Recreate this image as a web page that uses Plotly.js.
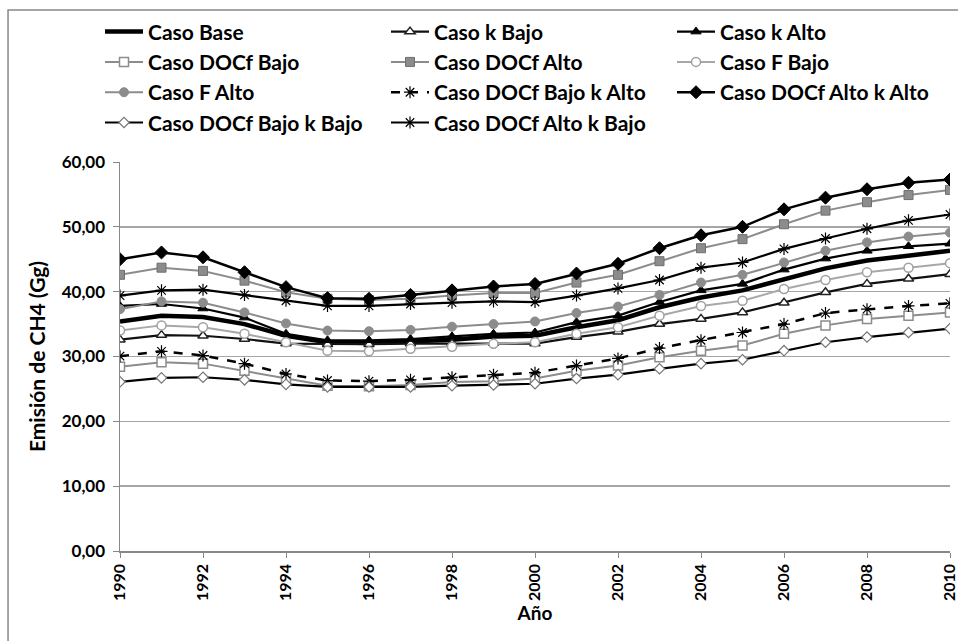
<!DOCTYPE html>
<html>
<head>
<meta charset="utf-8">
<script src="https://cdn.plot.ly/plotly-3.0.1.min.js"></script>
<style>html,body{margin:0;padding:0;background:#fff;}#chart{width:958px;height:641px;}</style>
</head>
<body>
<div id="chart"></div>
<script>
const years = [1990,1991,1992,1993,1994,1995,1996,1997,1998,1999,2000,2001,2002,2003,2004,2005,2006,2007,2008,2009,2010];
const xTicks = [1990,1992,1994,1996,1998,2000,2002,2004,2006,2008,2010];

const casoBase          = [35.4,36.3,36.1,35.0,33.2,32.2,32.1,32.3,32.6,33.1,33.2,34.5,35.6,37.6,39.1,40.2,41.9,43.6,44.8,45.6,46.3];
const casoKBajo         = [32.6,33.3,33.2,32.7,32.0,31.9,31.9,32.0,32.0,32.1,32.0,33.0,33.8,35.0,35.8,36.8,38.3,39.9,41.2,42.0,42.7];
const casoKAlto         = [37.8,38.1,37.4,36.0,33.5,32.5,32.5,32.7,33.1,33.5,33.7,35.3,36.3,38.4,40.2,41.2,43.4,45.1,46.3,47.0,47.4];
const casoDOCfBajo      = [28.4,29.1,28.9,27.8,26.6,25.5,25.4,25.6,26.05,26.2,26.6,27.8,28.6,29.9,30.9,31.7,33.5,34.8,35.8,36.3,36.8];
const casoDOCfAlto      = [42.6,43.7,43.2,41.7,39.9,38.9,38.7,38.9,39.4,39.8,39.8,41.4,42.6,44.7,46.7,48.1,50.4,52.5,53.8,54.9,55.7];
const casoFBajo         = [34.0,34.8,34.5,33.5,32.2,30.9,30.8,31.2,31.5,31.95,32.2,33.5,34.5,36.3,37.8,38.6,40.4,41.8,43.0,43.7,44.4];
const casoFAlto         = [37.3,38.5,38.3,36.8,35.1,34.0,33.9,34.1,34.6,35.0,35.4,36.7,37.7,39.5,41.4,42.6,44.5,46.3,47.6,48.5,49.1];
const casoDOCfBajoKAlto = [30.05,30.8,30.15,28.9,27.3,26.3,26.2,26.4,26.8,27.2,27.5,28.6,29.7,31.3,32.5,33.7,35.0,36.7,37.3,37.8,38.2];
const casoDOCfAltoKAlto = [45.0,46.05,45.3,43.0,40.7,39.0,38.9,39.5,40.2,40.8,41.2,42.8,44.3,46.7,48.7,50.0,52.7,54.5,55.8,56.8,57.3];
const casoDOCfBajoKBajo = [26.1,26.7,26.8,26.4,25.7,25.3,25.3,25.3,25.5,25.6,25.8,26.6,27.2,28.1,28.9,29.5,30.9,32.2,33.0,33.7,34.3];
const casoDOCfAltoKBajo = [39.4,40.2,40.3,39.5,38.6,37.8,37.8,38.1,38.3,38.5,38.4,39.4,40.5,41.8,43.7,44.5,46.6,48.2,49.7,51.0,51.9];

const names = ['Caso Base','Caso k Bajo','Caso k Alto','Caso DOCf Bajo','Caso DOCf Alto','Caso F Bajo',
  'Caso F Alto','Caso DOCf Bajo k Alto','Caso DOCf Alto k Alto','Caso DOCf Bajo k Bajo','Caso DOCf Alto k Bajo'];
const series = [casoBase,casoKBajo,casoKAlto,casoDOCfBajo,casoDOCfAlto,casoFBajo,casoFAlto,
  casoDOCfBajoKAlto,casoDOCfAltoKAlto,casoDOCfBajoKBajo,casoDOCfAltoKBajo];

const styles = [
  {line:{color:'#000',width:4.5}, mode:'lines'},
  {line:{color:'#111',width:2.2}, marker:{symbol:'triangle-up',size:9,color:'#fff',line:{color:'#222',width:1.5}}},
  {line:{color:'#000',width:2.2}, marker:{symbol:'triangle-up',size:9,color:'#000',line:{color:'#000',width:1}}},
  {line:{color:'#8c8c8c',width:2}, marker:{symbol:'square',size:9,color:'#fff',line:{color:'#8c8c8c',width:1.5}}},
  {line:{color:'#8c8c8c',width:2}, marker:{symbol:'square',size:9,color:'#8c8c8c',line:{color:'#6e6e6e',width:1}}},
  {line:{color:'#a8a8a8',width:2}, marker:{symbol:'circle',size:9,color:'#fff',line:{color:'#a0a0a0',width:1.5}}},
  {line:{color:'#8c8c8c',width:2}, marker:{symbol:'circle',size:9,color:'#8c8c8c',line:{color:'#8c8c8c',width:1}}},
  {line:{color:'#000',width:2.5,dash:'dash'}, marker:{symbol:'asterisk-open',size:10,color:'#000',line:{color:'#222',width:1.2}}},
  {line:{color:'#000',width:2.5}, marker:{symbol:'diamond',size:10,color:'#000',line:{color:'#000',width:1}}},
  {line:{color:'#000',width:2.2}, marker:{symbol:'diamond',size:8,color:'#fff',line:{color:'#777',width:1.2}}},
  {line:{color:'#000',width:2.2}, marker:{symbol:'asterisk-open',size:10,color:'#000',line:{color:'#333',width:1.2}}}
];

const traces = series.map((s,i)=>Object.assign({
  type:'scatter', x:years, y:s, name:names[i], mode:'lines+markers'
}, styles[i]));

const FONT = 'Lato, "Open Sans", sans-serif';
const layout = {
  width:958, height:641,
  margin:{l:120, r:8, t:162, b:90},
  paper_bgcolor:'#fff', plot_bgcolor:'#fff',
  separators:',.',
  font:{family:FONT, color:'#000', size:17, weight:700},
  showlegend:true,
  legend:{orientation:'h', x:-0.014, xanchor:'left', y:1.387, yanchor:'top',
    entrywidth:233, entrywidthmode:'pixels', font:{family:FONT,size:21,weight:700,color:'#000'},
    itemwidth:38, tracegroupgap:0, bgcolor:'rgba(0,0,0,0)'},
  xaxis:{range:[1990,2010], tickmode:'array', tickvals:xTicks, ticktext:xTicks.map(String),
    tickangle:-90, ticks:'outside', ticklen:5, tickcolor:'#888', showgrid:false,
    showline:true, linecolor:'#888', linewidth:1.5, zeroline:false, ticklabeloverflow:'allow',
    tickfont:{family:FONT,size:16,weight:700},
    title:{text:'Año', font:{family:FONT,size:19,weight:700}, standoff:6}},
  yaxis:{range:[0,60], dtick:10, tickformat:'.2f', ticks:'outside', ticklen:6, tickcolor:'#888',
    showgrid:true, gridcolor:'#a6a6a6', gridwidth:1.5, showline:true, linecolor:'#888', linewidth:1.5,
    zeroline:false, tickfont:{family:FONT,size:17,weight:700}, ticklabelstandoff:4,
    title:{text:'Emisión de CH4 (Gg)', font:{family:FONT,size:21,weight:700}, standoff:10}},
  shapes:[{type:'rect', xref:'paper', yref:'paper', x0:-0.1349, x1:1.2, y0:-0.4, y1:1.391,
    line:{color:'#888', width:1.5}, fillcolor:'rgba(0,0,0,0)', layer:'below'}]
};

Plotly.newPlot('chart', traces, layout, {displayModeBar:false, staticPlot:true});
</script>
</body>
</html>
